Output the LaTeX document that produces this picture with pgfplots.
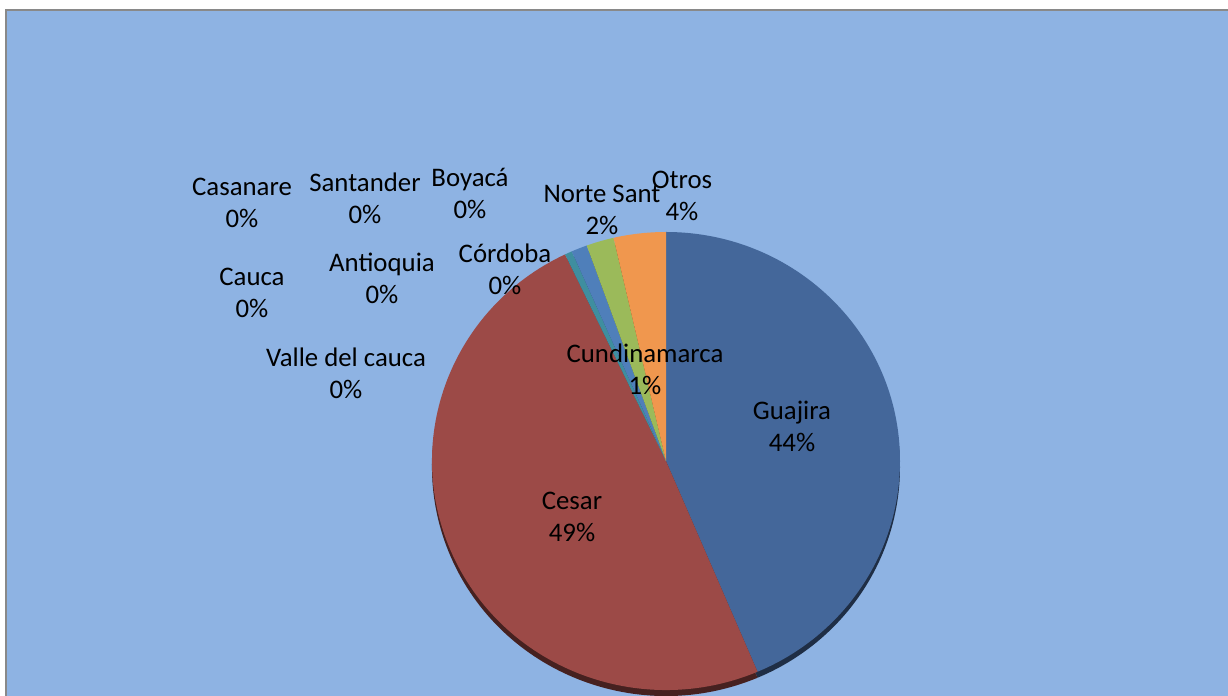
\documentclass[border=0pt]{standalone}
\usepackage{fontspec}
\setmainfont{Carlito}
\usepackage{pgfplots}
\pgfplotsset{compat=1.18}
\definecolor{bg}{HTML}{8EB3E3}
\definecolor{frame}{HTML}{898989}
\definecolor{cGua}{HTML}{44679A}
\definecolor{cCes}{HTML}{9C4A47}
\definecolor{cCor}{HTML}{3F8E9F}
\definecolor{cCun}{HTML}{4F7FBA}
\definecolor{cNor}{HTML}{9BBA5A}
\definecolor{cOtr}{HTML}{F0974E}
\begin{document}
\begin{tikzpicture}
\begin{axis}[
  scale only axis, width=614pt, height=348pt,
  xmin=0, xmax=1228, ymin=0, ymax=696,
  hide axis, clip=true,
]
% background and chart area
\fill[white] (axis cs:0,0) rectangle (axis cs:1228,696);
\fill[frame] (axis cs:5,0) rectangle (axis cs:1228,687);
\fill[bg] (axis cs:7,0) rectangle (axis cs:1228,685);
% pie: centre (666,235) in axis units, 0.5pt per unit
\def\cx{666}\def\cy{235}\def\cyd{229}
\def\rx{117pt}\def\ry{114.5pt}
% depth rim
\xdef\a{90}
\foreach \v/\col in {43.6/cGua, 49.3/cCes, 0.5/cCor, 1.1/cCun, 1.9/cNor, 3.6/cOtr}{
  \pgfmathsetmacro\b{\a-3.6*\v}
  \edef\doit{\noexpand\fill[\col!45!black] (axis cs:\cx,\cyd) -- ++(\a:{\rx} and {\ry}) arc[start angle=\a, end angle=\b, x radius=\rx, y radius=\ry] -- cycle;}
  \doit
  \xdef\a{\b}
}
% top faces
\xdef\a{90}
\foreach \v/\col in {43.6/cGua, 49.3/cCes, 0.5/cCor, 1.1/cCun, 1.9/cNor, 3.6/cOtr}{
  \pgfmathsetmacro\b{\a-3.6*\v}
  \edef\doit{\noexpand\fill[\col] (axis cs:\cx,\cy) -- ++(\a:{\rx} and {\ry}) arc[start angle=\a, end angle=\b, x radius=\rx, y radius=\ry] -- cycle;}
  \doit
  \xdef\a{\b}
}
% labels
\tikzset{lab/.style={align=center, inner sep=0pt, font=\fontsize{13.4}{16}\selectfont}}
\node[lab] at (axis cs:242,493) {Casanare\\0\%};
\node[lab] at (axis cs:365,497.5) {Santander\\0\%};
\node[lab] at (axis cs:470,502.5) {Boyacá\\0\%};
\node[lab] at (axis cs:602,486) {Norte Sant\\2\%};
\node[lab] at (axis cs:682,500.5) {Otros\\4\%};
\node[lab] at (axis cs:252,403) {Cauca\\0\%};
\node[lab] at (axis cs:382,418) {Antioquia\\0\%};
\node[lab] at (axis cs:505,426.5) {Córdoba\\0\%};
\node[lab] at (axis cs:346,323) {Valle del cauca\\0\%};
\node[lab] at (axis cs:645,327) {Cundinamarca\\1\%};
\node[lab] at (axis cs:792,270) {Guajira\\44\%};
\node[lab] at (axis cs:572,179) {Cesar\\49\%};
\end{axis}
\end{tikzpicture}
\end{document}
